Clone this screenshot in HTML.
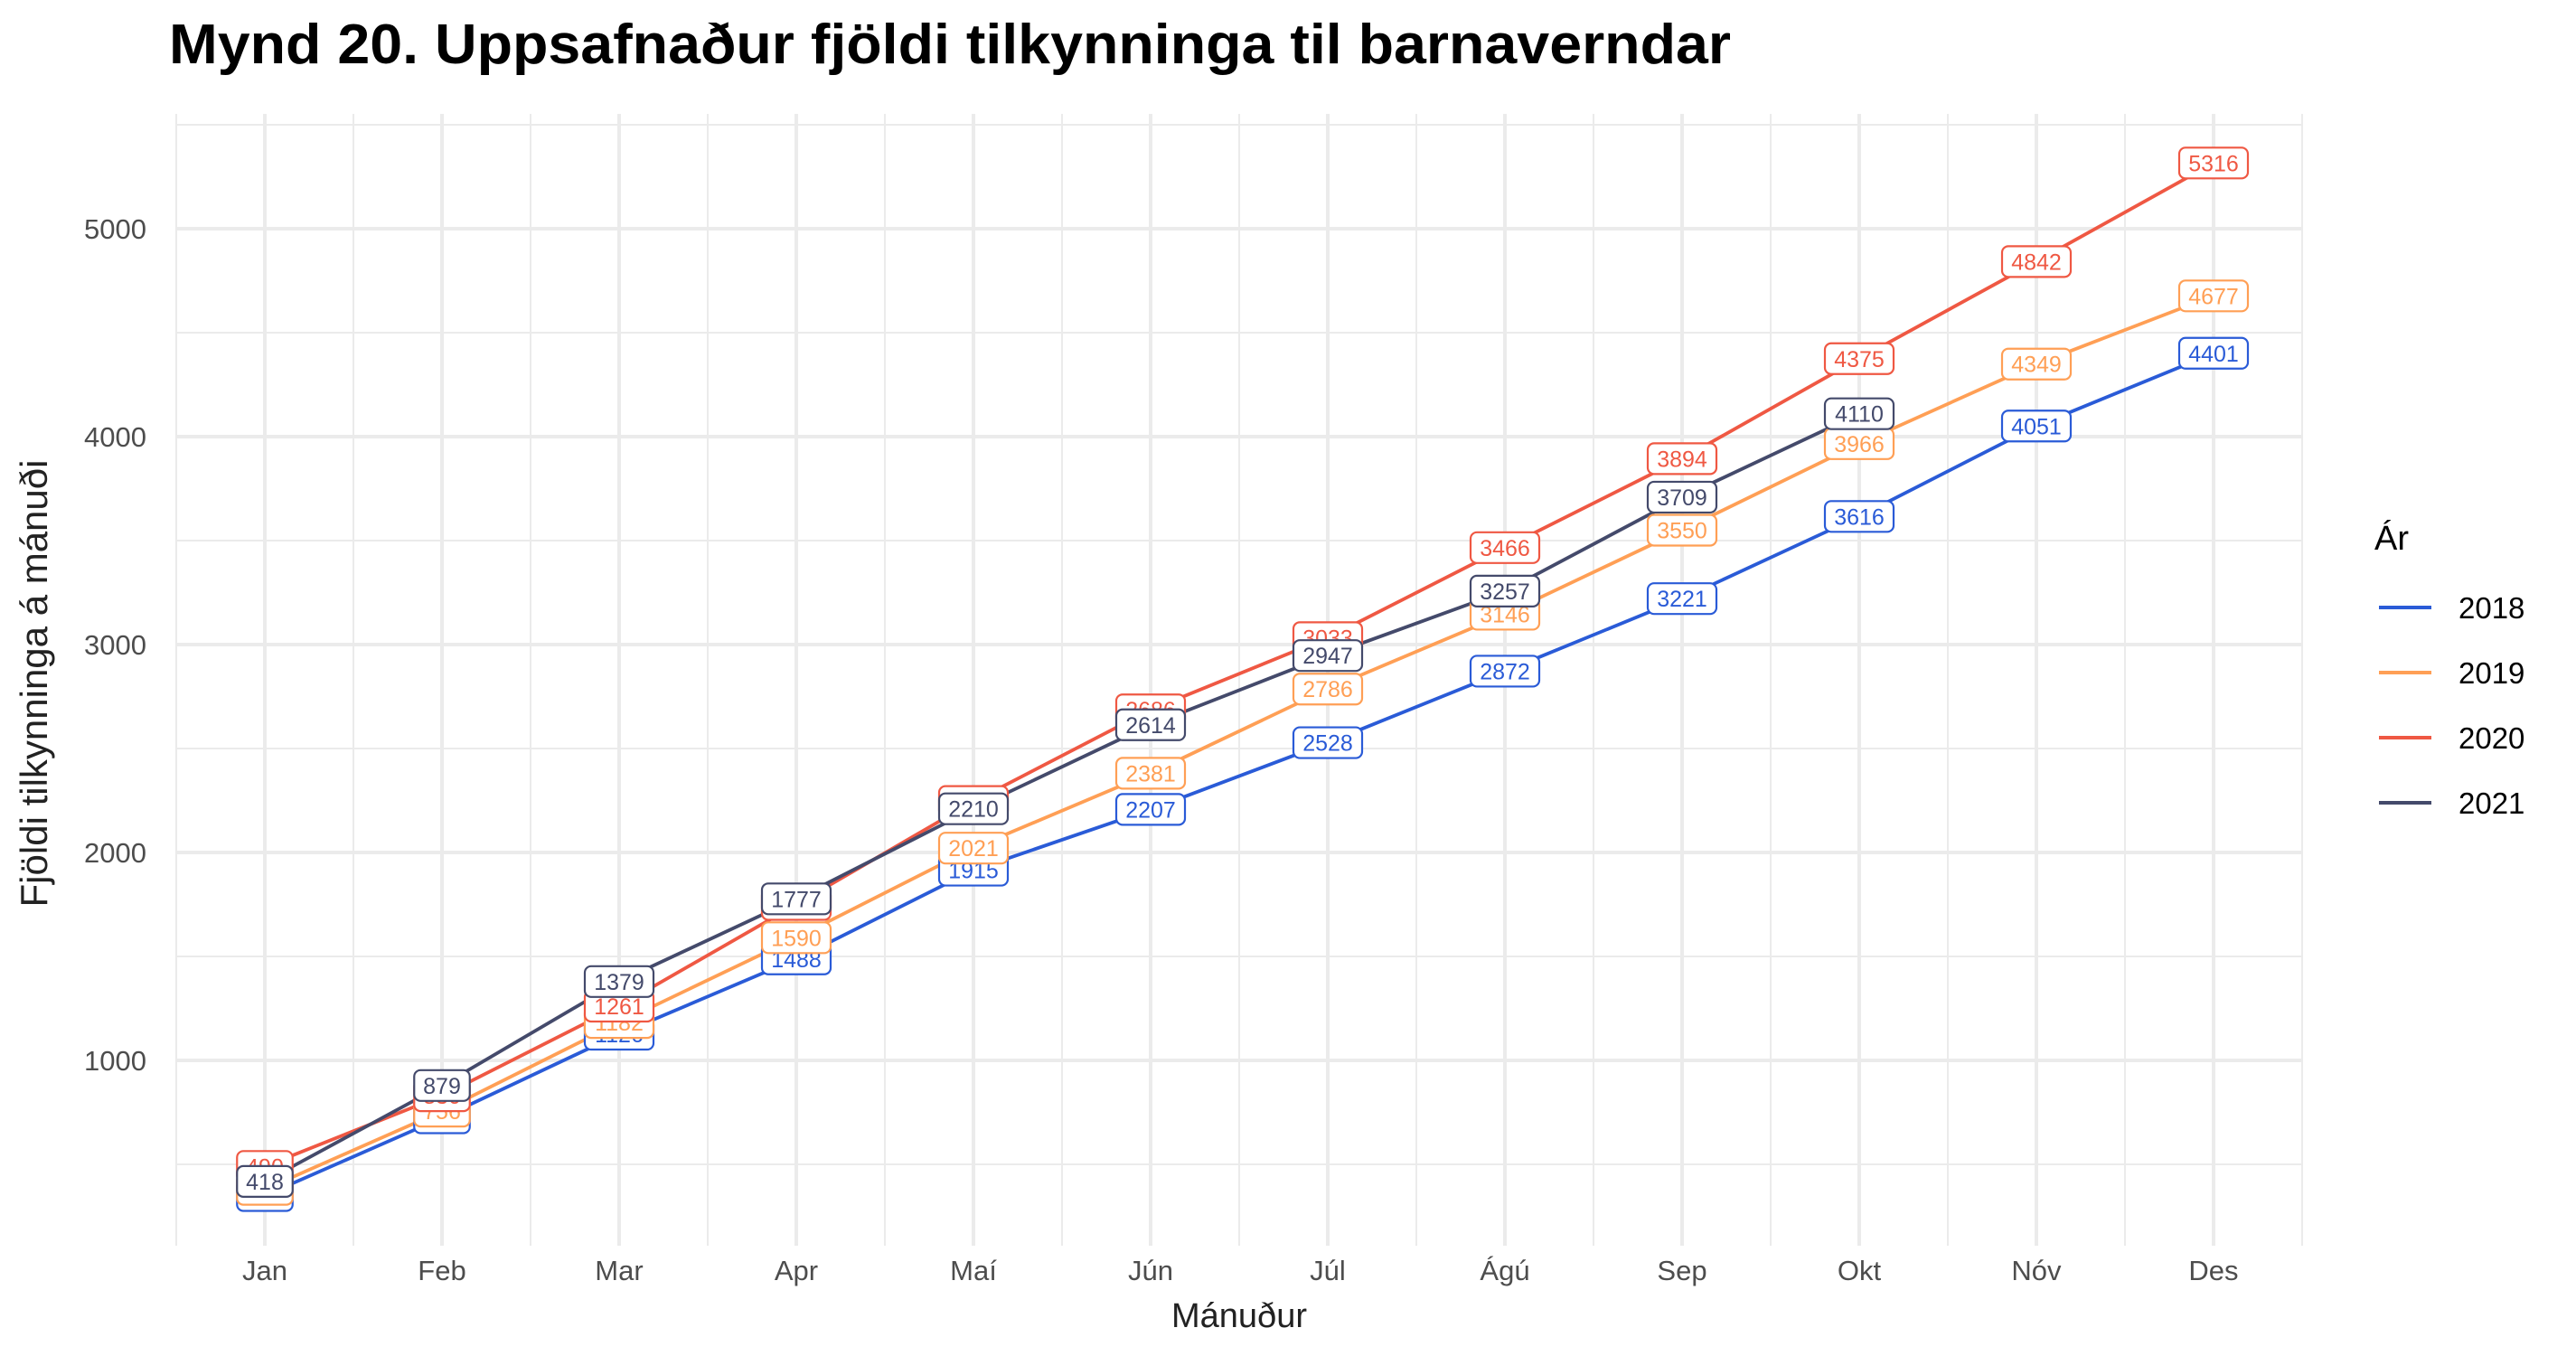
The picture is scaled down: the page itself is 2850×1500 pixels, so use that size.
<!DOCTYPE html>
<html><head><meta charset="utf-8"><style>
html,body{margin:0;padding:0;background:#fff;}
svg{display:block;font-family:"Liberation Sans",sans-serif;}
</style></head><body>
<svg id="chart" width="2850" height="1500" viewBox="0 0 2850 1500" xmlns="http://www.w3.org/2000/svg">
<rect width="2850" height="1500" fill="#fff"/>
<text x="187" y="70" font-size="62" font-weight="bold" fill="#000" textLength="1728" lengthAdjust="spacingAndGlyphs">Mynd 20. Uppsafnaður fjöldi tilkynninga til barnaverndar</text>
<g id="grid"></g>
<g id="lines"></g>
<g id="labels"></g>
<g id="axes"></g>
<text x="1371" y="1468" font-size="38" fill="#222" text-anchor="middle">Mánuður</text>
<text transform="translate(52,756) rotate(-90)" font-size="42" fill="#222" text-anchor="middle">Fjöldi tilkynninga á mánuði</text>
<g id="legend">
<text x="2627" y="608" font-size="38" fill="#000">Ár</text>
</g>
</svg>
<script>
const months = ["Jan","Feb","Mar","Apr","Maí","Jún","Júl","Ágú","Sep","Okt","Nóv","Des"];
const years = ["2018","2019","2020","2021"];
const colors = ["#2a5bd7","#ff9f55","#ef5843","#444a6b"];
const v2018 = [350,724,1126,1488,1915,2207,2528,2872,3221,3616,4051,4401];
const v2019 = [380,756,1182,1590,2021,2381,2786,3146,3550,3966,4349,4677];
const v2020 = [490,830,1261,1750,2245,2686,3033,3466,3894,4375,4842,5316];
const v2021 = [418,879,1379,1777,2210,2614,2947,3257,3709,4110];
const yTicks = [1000,2000,3000,4000,5000];
const yMinor = [500,1500,2500,3500,4500,5500];
const series = [v2018,v2019,v2020,v2021];

const NS = "http://www.w3.org/2000/svg";
const X0 = 293, XSTEP = 196, Y0 = 1403, YPER = 0.230;
const PL = 195, PR = 2547, PT = 126, PB = 1378;
function xs(i){ return X0 + i*XSTEP; }
function ys(v){ return Y0 - v*YPER; }
function mk(tag, attrs, parent){
  const e = document.createElementNS(NS, tag);
  for (const k in attrs) e.setAttribute(k, attrs[k]);
  parent.appendChild(e);
  return e;
}
const grid = document.getElementById("grid");
const axes = document.getElementById("axes");
yMinor.forEach(v=>{
  const l = mk("line",{x1:PL,x2:PR,y1:ys(v),y2:ys(v),stroke:"#ebebeb","stroke-width":2},grid);
  
  
});
for (let i=-0.5;i<=months.length-0.5;i+=1){
  const l = mk("line",{x1:xs(i),x2:xs(i),y1:PT,y2:PB,stroke:"#ebebeb","stroke-width":2},grid);
  
  
}
yTicks.forEach(v=>{
  const l = mk("line",{x1:PL,x2:PR,y1:ys(v),y2:ys(v),stroke:"#ebebeb","stroke-width":4},grid);
  
  
  const t = mk("text",{x:162,y:ys(v)+11,"font-size":31,fill:"#4d4d4d","text-anchor":"end"},axes);
  t.textContent = v;
  
  
});
months.forEach((m,i)=>{
  const l = mk("line",{x1:xs(i),x2:xs(i),y1:PT,y2:PB,stroke:"#ebebeb","stroke-width":4},grid);
  
  
  const t = mk("text",{x:xs(i),y:1416,"font-size":31,fill:"#4d4d4d","text-anchor":"middle"},axes);
  t.textContent = m;
  
  
});
const linesG = document.getElementById("lines");
const labelsG = document.getElementById("labels");
series.forEach((s,k)=>{
  const pts = s.map((v,i)=>xs(i)+","+ys(v)).join(" ");
  const pl = mk("polyline",{points:pts,fill:"none",stroke:colors[k],"stroke-width":3.8,"stroke-linejoin":"round"},linesG);
  
  
});
series.forEach((s,k)=>{
  s.forEach((v,i)=>{
    const g = mk("g",{},labelsG);
    
    
    const w = String(v).length*14.5 + 18;
    mk("rect",{x:xs(i)-w/2,y:ys(v)-17,width:w,height:34,rx:7,fill:"#fff",stroke:colors[k],"stroke-width":2.2},g);
    const t = mk("text",{x:xs(i),y:ys(v)+9,"font-size":25,fill:colors[k],"text-anchor":"middle"},g);
    t.textContent = v;
  });
});
const legend = document.getElementById("legend");
years.forEach((y,k)=>{
  const cy = 672 + k*72;
  const l = mk("line",{x1:2632,x2:2690,y1:cy,y2:cy,stroke:colors[k],"stroke-width":4},legend);
  
  
  const t = mk("text",{x:2720,y:cy+12,"font-size":33,fill:"#000"},legend);
  t.textContent = y;
  
  
});
</script>
</body></html>
